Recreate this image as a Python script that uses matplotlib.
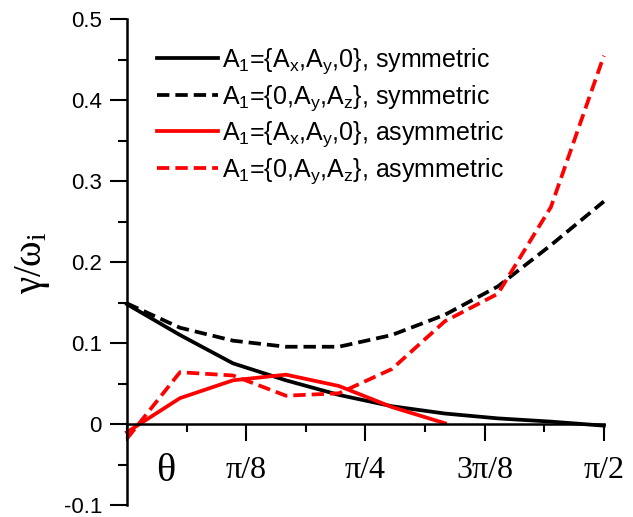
import numpy as np
import matplotlib
matplotlib.use("Agg")
import matplotlib.pyplot as plt
from matplotlib.ticker import FixedLocator, MultipleLocator

plt.rcParams['font.family'] = ['Liberation Sans', 'DejaVu Sans']
plt.rcParams['mathtext.default'] = 'regular'

# angle theta in degrees, 10 degree steps
theta_deg = [0, 10, 20, 30, 40, 50, 60, 70, 80, 90]
theta_red_solid = [0, 10, 20, 30, 40, 50, 60]

sym_xy = [0.148, 0.110, 0.075, 0.054, 0.036, 0.022, 0.013, 0.007, 0.003, -0.002]
sym_yz = [0.149, 0.119, 0.103, 0.0955, 0.0955, 0.110, 0.135, 0.170, 0.221, 0.275]
asym_xy = [-0.010, 0.032, 0.054, 0.061, 0.047, 0.021, 0.001]
asym_yz = [-0.018, 0.064, 0.060, 0.035, 0.038, 0.068, 0.127, 0.161, 0.268, 0.455]

labels = [r'$A_1$={$A_x$,$A_y$,0}, symmetric',
          r'$A_1$={0,$A_y$,$A_z$}, symmetric',
          r'$A_1$={$A_x$,$A_y$,0}, asymmetric',
          r'$A_1$={0,$A_y$,$A_z$}, asymmetric']

x_tick_labels = ['', 'π/8', 'π/4', '3π/8', 'π/2']

th = np.radians(theta_deg)
th_r = np.radians(theta_red_solid)

fig = plt.figure(figsize=(6.33, 5.17), dpi=100)
ax = fig.add_axes([0.2006, 0.0232, 0.7534, 0.9395])

lw = 2.7
dash = (3.3, 1.6)
ax.plot(th, sym_xy, color='black', lw=lw, label=labels[0], clip_on=False)
ax.plot(th, sym_yz, color='black', lw=lw, ls=(0, dash), label=labels[1], clip_on=False)
ax.plot(th_r, asym_xy, color='red', lw=lw, label=labels[2], clip_on=False)
ax.plot(th, asym_yz, color='red', lw=lw, ls=(0, dash), label=labels[3], clip_on=False)

ax.set_xlim(0, np.pi / 2)
ax.set_ylim(-0.1, 0.5)

for s in ['top', 'right']:
    ax.spines[s].set_visible(False)
ax.spines['bottom'].set_position(('data', 0))
ax.spines['left'].set_linewidth(1.8)
ax.spines['bottom'].set_linewidth(1.8)

ax.xaxis.set_major_locator(FixedLocator(np.arange(5) * np.pi / 8))
ax.xaxis.set_minor_locator(FixedLocator((np.arange(4) * 2 + 1) * np.pi / 16))
ax.set_xticklabels(x_tick_labels, family='Liberation Serif', fontsize=23)
ax.tick_params(axis='x', which='major', direction='out', length=12, width=1.5, pad=11)
ax.tick_params(axis='x', which='minor', direction='out', length=6, width=1.5)

ax.yaxis.set_major_locator(MultipleLocator(0.1))
ax.yaxis.set_minor_locator(MultipleLocator(0.05))
ax.set_yticks(np.arange(-0.1, 0.51, 0.1))
ax.set_yticklabels(['-0.1', '0', '0.1', '0.2', '0.3', '0.4', '0.5'], fontsize=16)
ax.tick_params(axis='y', which='major', direction='out', length=12, width=1.5, pad=6)
ax.tick_params(axis='y', which='minor', direction='out', length=6.5, width=1.5)

fig.text(0.052, 0.493, r'$γ/ω_i$', rotation=90, ha='center', va='center',
         family='Liberation Serif', fontsize=28)
ax.text(0.1286, -0.059, 'θ', ha='center', va='center',
        family='Liberation Serif', fontsize=29)

ax.legend(loc='upper left', bbox_to_anchor=(0.063, 0.944), frameon=False,
          fontsize=18, handlelength=2.45, handletextpad=0.16,
          borderpad=0, borderaxespad=0, labelspacing=0.27)

fig.savefig('out.png', dpi=100)
